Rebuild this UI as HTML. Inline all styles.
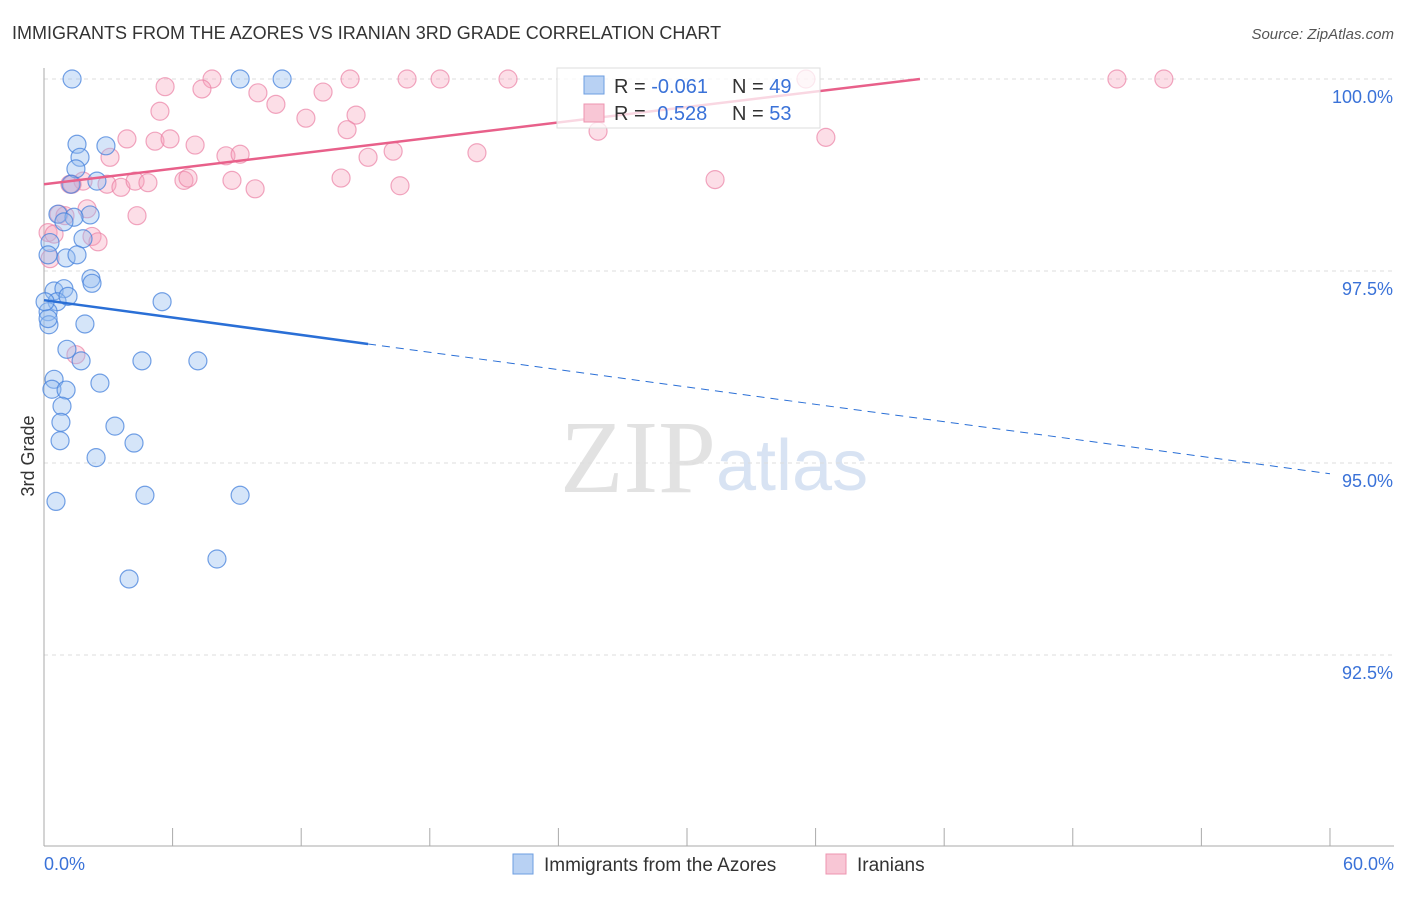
<!DOCTYPE html>
<html><head><meta charset="utf-8"><style>
body{margin:0;background:#fff;font-family:"Liberation Sans",sans-serif}
</style></head><body>
<svg id="chart" width="1406" height="892" xmlns="http://www.w3.org/2000/svg" font-family="Liberation Sans, sans-serif">
<text x="12" y="39" font-size="18" fill="#333">IMMIGRANTS FROM THE AZORES VS IRANIAN 3RD GRADE CORRELATION CHART</text>
<text x="1394" y="39" font-size="15" fill="#555" font-style="italic" text-anchor="end">Source: ZipAtlas.com</text>
<text x="716" y="492" font-size="104" fill="#e2e2e2" text-anchor="end" font-family="Liberation Serif, serif">ZIP</text>
<text x="716" y="490" font-size="72" fill="#d8e3f3">atlas</text>
<g id="grid"></g>
<line x1="44" y1="68" x2="44" y2="846" stroke="#aaa"/>
<line x1="44" y1="846" x2="1394" y2="846" stroke="#aaa"/>
<g id="ticks"></g>
<text x="34" y="456" font-size="18" fill="#333" text-anchor="middle" transform="rotate(-90 34 456)">3rd Grade</text>
<g id="pts"></g>
<g id="lines"></g>
<rect x="557" y="68" width="263" height="60" fill="#fff" fill-opacity="0.75" stroke="#ddd"/>
<rect x="584" y="76" width="20" height="18" fill="#b8d1f3" stroke="#6d9ee0"/>
<rect x="584" y="104" width="20" height="18" fill="#f8c6d5" stroke="#ee94b0"/>
<text x="614" y="93" font-size="20" fill="#333">R = <tspan fill="#3a72d8">-0.061</tspan></text>
<text x="732" y="93" font-size="20" fill="#333">N = <tspan fill="#3a72d8">49</tspan></text>
<text x="614" y="120" font-size="20" fill="#333">R = <tspan fill="#3a72d8" dx="6">0.528</tspan></text>
<text x="732" y="120" font-size="20" fill="#333">N = <tspan fill="#3a72d8">53</tspan></text>
<rect x="513" y="854" width="20" height="20" fill="#b8d1f3" stroke="#6d9ee0"/>
<text x="544" y="871" font-size="19" fill="#333">Immigrants from the Azores</text>
<rect x="826" y="854" width="20" height="20" fill="#f8c6d5" stroke="#ee94b0"/>
<text x="857" y="871" font-size="19" fill="#333">Iranians</text>
</svg>
<script>
const yTicks=[100,97.5,95,92.5];
const yTickLabels=["100.0%","97.5%","95.0%","92.5%"];
const xLabels=["0.0%","60.0%"];
const blueX=[1.31,9.15,11.11,1.54,2.89,1.68,1.49,1.26,2.47,0.65,2.15,1.40,0.93,1.82,0.28,0.19,1.03,1.54,2.19,2.24,0.47,0.93,0.61,1.12,5.51,0.19,0.23,1.91,1.07,1.73,4.57,7.18,0.47,0.37,1.03,2.61,0.84,0.79,0.75,3.31,4.20,2.43,0.56,4.71,9.15,8.07,3.97,0.19,0.05];
const blueY=[100,100,100,99.15,99.13,98.98,98.83,98.63,98.67,98.24,98.23,98.20,98.14,97.92,97.87,97.71,97.67,97.71,97.40,97.34,97.24,97.27,97.10,97.17,97.10,96.97,96.80,96.81,96.48,96.33,96.33,96.33,96.09,95.96,95.95,96.04,95.74,95.53,95.29,95.48,95.26,95.07,94.50,94.58,94.58,93.75,93.49,96.88,97.10];
const pinkX=[5.65,7.84,7.37,14.28,16.94,18.48,21.65,35.55,50.06,52.25,5.41,9.98,10.82,13.02,12.22,14.56,14.14,3.87,5.18,5.88,7.05,3.08,8.49,9.15,15.12,16.29,20.20,25.85,36.48,1.21,1.82,2.94,3.59,4.25,4.85,6.53,6.72,8.77,9.85,13.86,16.61,31.31,0.70,2.01,0.98,4.34,0.19,0.47,2.24,2.52,0.28,1.49,1.31];
const pinkY=[99.9,100,99.87,100,100,100,100,100,100,100,99.58,99.82,99.67,99.83,99.49,99.53,99.34,99.22,99.19,99.22,99.14,98.98,99.0,99.02,98.98,99.06,99.04,99.32,99.24,98.63,98.67,98.63,98.59,98.67,98.65,98.68,98.71,98.68,98.57,98.71,98.61,98.69,98.24,98.31,98.22,98.22,98.0,97.98,97.95,97.88,97.66,96.41,98.63];
const blueLine=[[0,97.12],[15.12,96.55],[60,94.86]];
const pinkLine=[[0,98.63],[40.87,100]];
const X=v=>44+v*21.433, Y=v=>79+(100-v)*76.8;
const NS="http://www.w3.org/2000/svg";
function mk(tag,attrs,parent){const e=document.createElementNS(NS,tag);for(const k in attrs)e.setAttribute(k,attrs[k]);document.getElementById(parent).appendChild(e);return e;}
yTicks.forEach((t,i)=>{
 const g=mk('line',{x1:44,x2:1394,y1:Y(t),y2:Y(t),stroke:'#ddd','stroke-dasharray':'4,4'},'grid');
 
 
 const l=mk('text',{x:1393,y:Y(t)+24,'font-size':18,fill:'#3a72d8','text-anchor':'end'},'ticks');
 l.textContent=yTickLabels[i];
 
 
});
for(let i=0;i<=10;i++){
 const t=mk('line',{x1:X(i*6),x2:X(i*6),y1:828,y2:846,stroke:'#aaa'},'ticks');
 
 
}
[[0,'start',44],[1,'end',1394]].forEach(([i,a,x])=>{
 const l=mk('text',{x:x,y:870,'font-size':18,fill:'#3a72d8','text-anchor':a},'ticks');
 l.textContent=xLabels[i];
 
 
});
pinkX.forEach((v,i)=>{
 const c=mk('circle',{cx:X(v),cy:Y(pinkY[i]),r:9,fill:'rgba(245,160,185,0.35)',stroke:'rgba(235,130,165,0.7)','stroke-width':1.2},'pts');
 
 
});
blueX.forEach((v,i)=>{
 const c=mk('circle',{cx:X(v),cy:Y(blueY[i]),r:9,fill:'rgba(150,190,240,0.4)',stroke:'rgba(70,130,220,0.75)','stroke-width':1.2},'pts');
 
 
});
let l1=mk('line',{x1:X(blueLine[0][0]),y1:Y(blueLine[0][1]),x2:X(blueLine[1][0]),y2:Y(blueLine[1][1]),stroke:'#2a6fd6','stroke-width':2.5},'lines');


let l2=mk('line',{x1:X(blueLine[1][0]),y1:Y(blueLine[1][1]),x2:X(blueLine[2][0]),y2:Y(blueLine[2][1]),stroke:'#2a6fd6','stroke-width':1,'stroke-dasharray':'8,6'},'lines');


let l3=mk('line',{x1:X(pinkLine[0][0]),y1:Y(pinkLine[0][1]),x2:X(pinkLine[1][0]),y2:Y(pinkLine[1][1]),stroke:'#e8608a','stroke-width':2.5},'lines');


</script>
</body></html>
